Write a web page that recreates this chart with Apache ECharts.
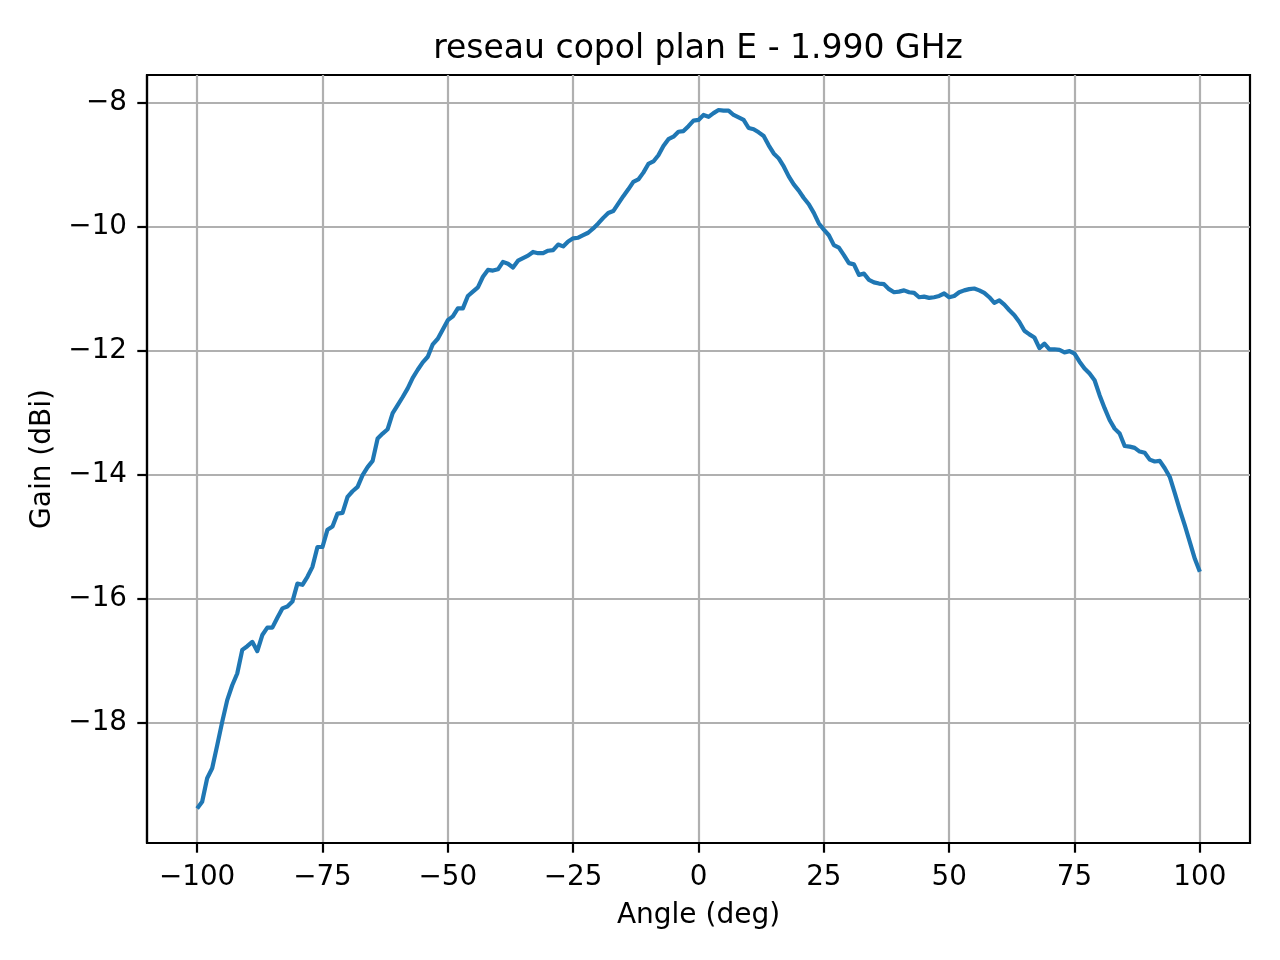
<!DOCTYPE html>
<html>
<head>
<meta charset="utf-8">
<script src="https://cdn.jsdelivr.net/npm/echarts@6/dist/echarts.min.js"></script>
<style>
  html, body { margin: 0; padding: 0; background: #fff; }
  #chart { width: 1280px; height: 960px; }
</style>
</head>
<body>
<div id="chart"></div>
<script>
// angle (deg), one sample per degree
var angles = [
  -100, -99, -98, -97, -96, -95, -94, -93, -92, -91,
  -90, -89, -88, -87, -86, -85, -84, -83, -82, -81,
  -80, -79, -78, -77, -76, -75, -74, -73, -72, -71,
  -70, -69, -68, -67, -66, -65, -64, -63, -62, -61,
  -60, -59, -58, -57, -56, -55, -54, -53, -52, -51,
  -50, -49, -48, -47, -46, -45, -44, -43, -42, -41,
  -40, -39, -38, -37, -36, -35, -34, -33, -32, -31,
  -30, -29, -28, -27, -26, -25, -24, -23, -22, -21,
  -20, -19, -18, -17, -16, -15, -14, -13, -12, -11,
  -10, -9, -8, -7, -6, -5, -4, -3, -2, -1,
  0, 1, 2, 3, 4, 5, 6, 7, 8, 9,
  10, 11, 12, 13, 14, 15, 16, 17, 18, 19,
  20, 21, 22, 23, 24, 25, 26, 27, 28, 29,
  30, 31, 32, 33, 34, 35, 36, 37, 38, 39,
  40, 41, 42, 43, 44, 45, 46, 47, 48, 49,
  50, 51, 52, 53, 54, 55, 56, 57, 58, 59,
  60, 61, 62, 63, 64, 65, 66, 67, 68, 69,
  70, 71, 72, 73, 74, 75, 76, 77, 78, 79,
  80, 81, 82, 83, 84, 85, 86, 87, 88, 89,
  90, 91, 92, 93, 94, 95, 96, 97, 98, 99,
  100
];

// gain (dBi)
var gains = [
  -19.38, -19.27, -18.89, -18.73, -18.36, -17.98, -17.63, -17.39, -17.20, -16.82,
  -16.76, -16.69, -16.84, -16.58, -16.46, -16.46, -16.30, -16.15, -16.12, -16.04,
  -15.75, -15.77, -15.64, -15.48, -15.16, -15.16, -14.88, -14.83, -14.62, -14.61,
  -14.35, -14.26, -14.19, -14.00, -13.87, -13.77, -13.41, -13.33, -13.26, -13.00,
  -12.87, -12.74, -12.60, -12.43, -12.30, -12.18, -12.09, -11.89, -11.80, -11.65,
  -11.50, -11.44, -11.31, -11.31, -11.11, -11.04, -10.97, -10.80, -10.69, -10.70,
  -10.68, -10.56, -10.59, -10.65, -10.54, -10.50, -10.46, -10.40, -10.42, -10.42,
  -10.38, -10.37, -10.28, -10.31, -10.23, -10.18, -10.17, -10.13, -10.09, -10.02,
  -9.94, -9.85, -9.77, -9.74, -9.62, -9.50, -9.39, -9.27, -9.23, -9.12,
  -8.98, -8.94, -8.84, -8.69, -8.58, -8.54, -8.46, -8.45, -8.37, -8.28,
  -8.27, -8.19, -8.22, -8.16, -8.11, -8.12, -8.12, -8.19, -8.23, -8.27,
  -8.40, -8.42, -8.47, -8.53, -8.68, -8.81, -8.89, -9.02, -9.18, -9.31,
  -9.41, -9.53, -9.63, -9.77, -9.94, -10.04, -10.13, -10.29, -10.33, -10.45,
  -10.58, -10.60, -10.77, -10.75, -10.85, -10.89, -10.91, -10.92, -11.00, -11.05,
  -11.04, -11.02, -11.05, -11.06, -11.13, -11.12, -11.14, -11.13, -11.11, -11.07,
  -11.13, -11.11, -11.05, -11.02, -11.00, -10.99, -11.02, -11.06, -11.13, -11.22,
  -11.18, -11.25, -11.34, -11.42, -11.53, -11.67, -11.73, -11.78, -11.95, -11.88,
  -11.97, -11.97, -11.98, -12.02, -12.00, -12.04, -12.17, -12.28, -12.36, -12.47,
  -12.71, -12.92, -13.11, -13.25, -13.33, -13.53, -13.54, -13.56, -13.62, -13.64,
  -13.75, -13.78, -13.77, -13.89, -14.03, -14.29, -14.56, -14.81, -15.08, -15.35,
  -15.56
];

var xTicks = [-100, -75, -50, -25, 0, 25, 50, 75, 100];
var yTicks = [-18, -16, -14, -12, -10, -8];

var chartDom = document.getElementById('chart');
var myChart = echarts.init(chartDom, null, { renderer: 'canvas' });

// matplotlib style minus sign
function fmt(v) {
  return v < 0 ? '\u2212' + Math.abs(v) : String(v);
}

var font = 'DejaVu Sans';

var option = {
  animation: false,
  backgroundColor: '#ffffff',
  title: {
    text: 'reseau copol plan E - 1.990 GHz',
    left: 698,
    top: 33,
    textAlign: 'center',
    padding: 0,
    textStyle: { fontFamily: font, fontSize: 33, fontWeight: 'normal', color: '#000' }
  },
  grid: {
    left: 147,
    right: 30,
    top: 75,
    bottom: 117,
    show: true,
    borderColor: '#000',
    borderWidth: 2.2,
    backgroundColor: 'transparent'
  },
  xAxis: {
    type: 'value',
    min: -110,
    max: 110,
    name: 'Angle (deg)',
    nameLocation: 'middle',
    nameGap: 59,
    nameTextStyle: { fontFamily: font, fontSize: 28, color: '#000' },
    axisLine: { show: true, onZero: false, lineStyle: { color: '#000', width: 2.2 } },
    axisTick: { show: true, length: 9.7, customValues: xTicks, lineStyle: { color: '#000', width: 2.2 } },
    axisLabel: { customValues: xTicks, formatter: fmt, margin: 21, fontFamily: font, fontSize: 27.8, color: '#000' },
    splitLine: { show: true, lineStyle: { color: '#b0b0b0', width: 2.2 } }
  },
  yAxis: {
    type: 'value',
    min: -19.935,
    max: -7.545,
    name: 'Gain (dBi)',
    nameLocation: 'middle',
    nameRotate: 90,
    nameGap: 90,
    nameTextStyle: { fontFamily: font, fontSize: 28, color: '#000' },
    axisLine: { show: true, onZero: false, lineStyle: { color: '#000', width: 2.2 } },
    axisTick: { show: true, length: 9.7, customValues: yTicks, lineStyle: { color: '#000', width: 2.2 } },
    axisLabel: { customValues: yTicks, formatter: fmt, margin: 20, fontFamily: font, fontSize: 27.8, color: '#000' },
    splitLine: { show: true, lineStyle: { color: '#b0b0b0', width: 2.2 } }
  },
  series: [
    {
      type: 'line',
      data: angles.map(function (a, i) { return [a, gains[i]]; }),
      showSymbol: false,
      symbol: 'none',
      lineStyle: { color: '#1f77b4', width: 4.2, join: 'round', cap: 'butt' },
      clip: true
    }
  ]
};

option && myChart.setOption(option);
</script>
</body>
</html>
